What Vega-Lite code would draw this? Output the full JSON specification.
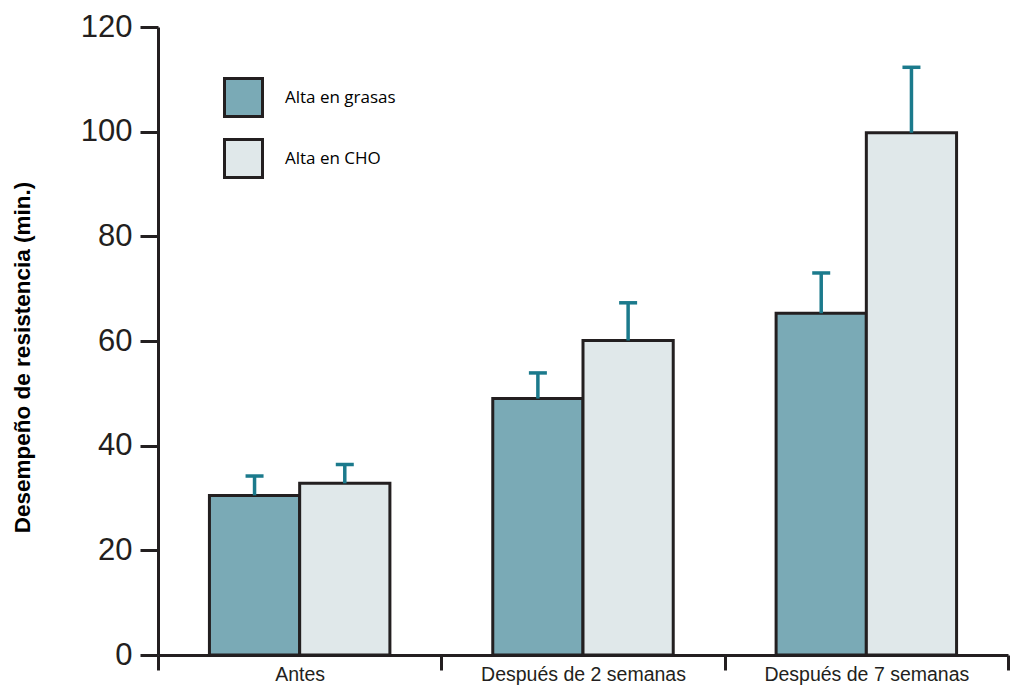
{
  "$schema": "https://vega.github.io/schema/vega-lite/v6.json",
  "width": 850,
  "height": 628,
  "autosize": "none",
  "padding": {"left": 158, "top": 27, "right": 2, "bottom": 33},
  "background": "white",
  "config": {"view": {"stroke": null}, "font": "Liberation Sans"},
  "data": {
    "values": [
      {"periodo": "Antes", "dieta": "Alta en grasas", "valor": 30.5, "sup": 34.2},
      {"periodo": "Antes", "dieta": "Alta en CHO", "valor": 32.8, "sup": 36.4},
      {"periodo": "Después de 2 semanas", "dieta": "Alta en grasas", "valor": 49.0, "sup": 53.9},
      {"periodo": "Después de 2 semanas", "dieta": "Alta en CHO", "valor": 60.1, "sup": 67.3},
      {"periodo": "Después de 7 semanas", "dieta": "Alta en grasas", "valor": 65.3, "sup": 73.0},
      {"periodo": "Después de 7 semanas", "dieta": "Alta en CHO", "valor": 99.8, "sup": 112.3}
    ]
  },
  "encoding": {
    "x": {
      "field": "periodo",
      "type": "nominal",
      "sort": ["Antes", "Después de 2 semanas", "Después de 7 semanas"],
      "scale": {"paddingInner": 0, "paddingOuter": 0},
      "title": null,
      "axis": {
        "labelAngle": 0,
        "labelFontSize": 19.5,
        "labelLimit": 400,
        "labelColor": "#231f20",
        "labelPadding": -5,
        "domainColor": "#231f20",
        "domainWidth": 3,
        "tickColor": "#231f20",
        "tickWidth": 3,
        "tickSize": 15,
        "tickBand": "extent"
      }
    },
    "xOffset": {
      "field": "dieta",
      "type": "nominal",
      "sort": ["Alta en grasas", "Alta en CHO"],
      "scale": {"paddingInner": 0, "paddingOuter": 0.57}
    }
  },
  "layer": [
    {
      "mark": {"type": "bar", "stroke": "#231f20", "strokeWidth": 3},
      "encoding": {
        "y": {
          "field": "valor",
          "type": "quantitative",
          "scale": {"domain": [0, 120]},
          "title": "Desempeño de resistencia (min.)",
          "axis": {
            "values": [0, 20, 40, 60, 80, 100, 120],
            "grid": false,
            "labelFontSize": 31,
            "labelColor": "#231f20",
            "labelPadding": 8,
            "tickSize": 18,
            "tickWidth": 3,
            "tickColor": "#231f20",
            "domainColor": "#231f20",
            "domainWidth": 3,
            "titleFontSize": 22.5,
            "titleFontWeight": "bold",
            "titleColor": "#000000",
            "titleX": -136,
            "titleY": 330,
            "titleAngle": -90,
            "titleBaseline": "middle",
            "titleAlign": "center"
          }
        },
        "color": {
          "field": "dieta",
          "type": "nominal",
          "scale": {"domain": ["Alta en grasas", "Alta en CHO"], "range": ["#7aaab6", "#e0e8ea"]},
          "legend": {
            "orient": "none",
            "legendX": 65,
            "legendY": 50,
            "title": null,
            "symbolType": "square",
            "symbolSize": 1444,
            "symbolStrokeColor": "#231f20",
            "symbolStrokeWidth": 3,
            "symbolOpacity": 1,
            "labelFont": "Open Sans",
            "labelFontSize": 17,
            "labelColor": "#000000",
            "labelOffset": 21,
            "rowPadding": 10
          }
        }
      }
    },
    {
      "mark": {"type": "rule", "color": "#1b7a8c", "strokeWidth": 3.5},
      "encoding": {
        "y": {"field": "valor", "type": "quantitative"},
        "y2": {"field": "sup"}
      }
    },
    {
      "mark": {"type": "tick", "color": "#1b7a8c", "thickness": 3.5, "size": 18, "opacity": 1},
      "encoding": {
        "y": {"field": "sup", "type": "quantitative"}
      }
    }
  ]
}
